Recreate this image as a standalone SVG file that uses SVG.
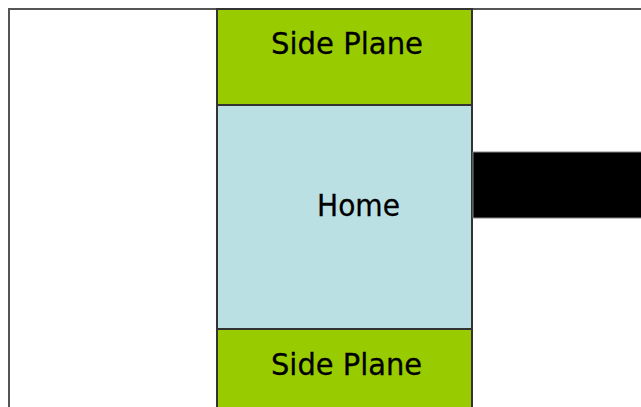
<svg xmlns="http://www.w3.org/2000/svg" width="641" height="407" viewBox="0 0 641 407">
  <style>
    .frame { fill: #ffffff; stroke: #555555; stroke-width: 2; }
    .plane { fill: #99cc00; stroke: #333333; stroke-width: 2; }
    .home { fill: #bbe0e3; stroke: #333333; stroke-width: 2; }
    .label { font-family: "Comic Sans MS", "DejaVu Sans", sans-serif; font-size: 30px; fill: #000000; stroke: #000000; stroke-width: 0.3; }
  </style>
  <rect width="641" height="407" fill="#ffffff"/>
  <!-- outer frame, open to the right and bottom -->
  <rect class="frame" x="9" y="9" width="660" height="420"/>
  <g id="side-plane-top">
    <rect class="plane" x="217" y="9" width="255" height="96"/>
    <text class="label" x="347" y="54" text-anchor="middle" textLength="152" lengthAdjust="spacingAndGlyphs">Side Plane</text>
  </g>
  <g id="home">
    <rect class="home" x="217" y="105" width="255" height="224"/>
    <text class="label" x="358.5" y="216" text-anchor="middle" textLength="83" lengthAdjust="spacingAndGlyphs">Home</text>
  </g>
  <g id="side-plane-bottom">
    <rect class="plane" x="217" y="329" width="255" height="100"/>
    <text class="label" x="346.5" y="375" text-anchor="middle" textLength="151" lengthAdjust="spacingAndGlyphs">Side Plane</text>
  </g>
  <g id="connectors">
    <rect x="473" y="152" width="170" height="66" fill="#000000" stroke="#888888" stroke-width="1"/>
  </g>
</svg>
